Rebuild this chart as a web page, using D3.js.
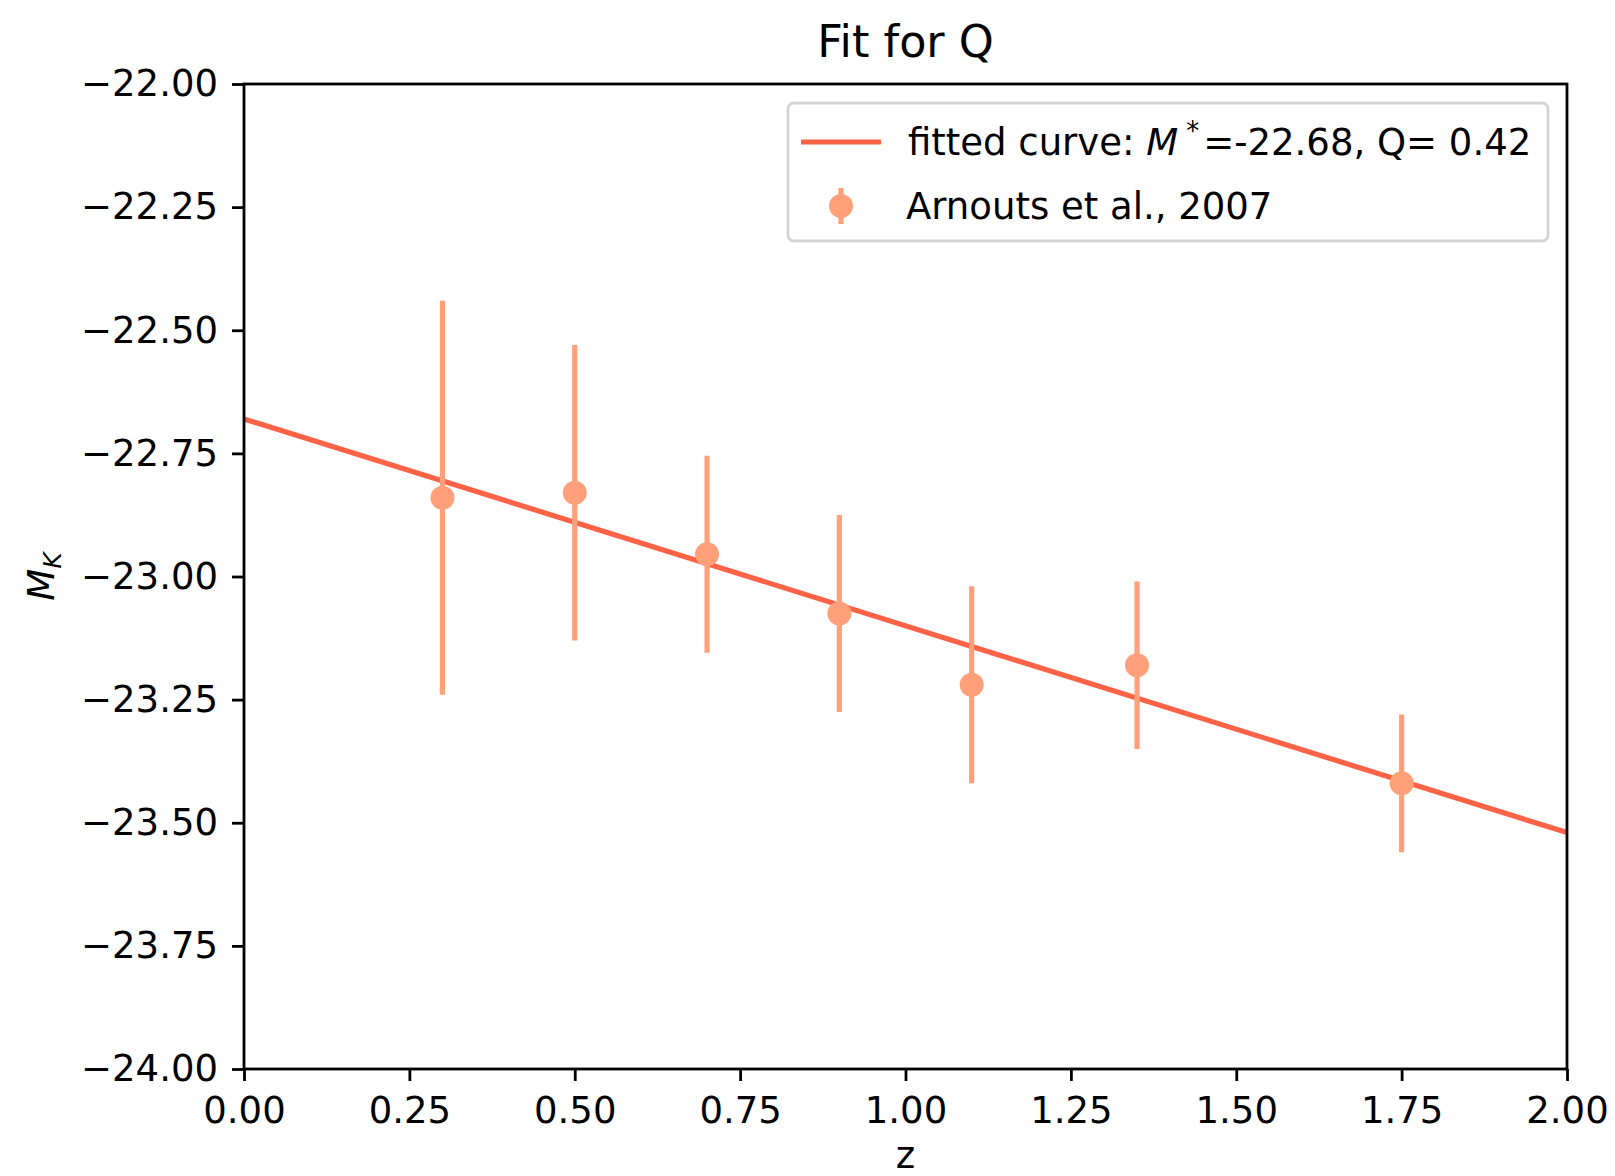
<!DOCTYPE html>
<html>
<head>
    <meta charset='utf-8' />
    <title>Fit for Q</title>
    <script src="https://cdn.jsdelivr.net/npm/d3@7"></script>
	<style type="text/css">
		body {
			margin: 0;
			background: #fff;
		}
		#chart text {
			font-family: "DejaVu Sans";
			fill: #000;
		}
		.axis path {
			display: none;
		}
		.axis line {
			stroke: #000;
			stroke-width: 2.8px;
		}
		.tick text {
			font-size: 37px;
		}
	</style>
</head>
<body>

<div id="chart"></div>

<script type="text/javascript">
	// measurements (Arnouts et al., 2007)
	var zValues = [0.3, 0.5, 0.7, 0.9, 1.1, 1.35, 1.75];
	var mValues = [-22.84, -22.83, -22.955, -23.075, -23.22, -23.18, -23.42];
	var mErrors = [0.40, 0.30, 0.20, 0.20, 0.20, 0.17, 0.14];

	// fitted curve end points
	var fitZ = [0, 2];
	var fitM = [-22.68, -23.52];

	var xTicks = [0, 0.25, 0.5, 0.75, 1, 1.25, 1.5, 1.75, 2];
	var yTicks = [-22, -22.25, -22.5, -22.75, -23, -23.25, -23.5, -23.75, -24];

	var lineColor = "#ff6347",
		pointColor = "#ffa07a";

	var width = 1615,
		height = 1176,
		margin = {top: 84, right: 48, bottom: 107, left: 244},
		chartWidth = width - margin.left - margin.right,
		chartHeight = height - margin.top - margin.bottom;

	var svg = d3.select("#chart").append("svg")
		.attr("width", width)
		.attr("height", height);

	var x = d3.scaleLinear().domain([0, 2]).range([0, chartWidth]);
	var y = d3.scaleLinear().domain([-22, -24]).range([0, chartHeight]);

	var g = svg.append("g")
		.attr("transform", "translate(" + margin.left + "," + margin.top + ")");

	var points = zValues.map(function(z, i) {
		return {z: z, m: mValues[i], err: mErrors[i]};
	});

	// fitted line
	var fit = fitZ.map(function(z, i) { return [z, fitM[i]]; });
	g.append("path")
		.datum(fit)
		.attr("fill", "none")
		.attr("stroke", lineColor)
		.attr("stroke-width", 5.2)
		.attr("d", d3.line()
			.x(function(d) { return x(d[0]); })
			.y(function(d) { return y(d[1]); }));

	// error bars
	g.selectAll(".errbar")
		.data(points)
	  .enter().append("line")
		.attr("class", "errbar")
		.attr("x1", function(d) { return x(d.z); })
		.attr("x2", function(d) { return x(d.z); })
		.attr("y1", function(d) { return y(d.m - d.err); })
		.attr("y2", function(d) { return y(d.m + d.err); })
		.attr("stroke", pointColor)
		.attr("stroke-width", 5.2);

	g.selectAll(".dot")
		.data(points)
	  .enter().append("circle")
		.attr("class", "dot")
		.attr("cx", function(d) { return x(d.z); })
		.attr("cy", function(d) { return y(d.m); })
		.attr("r", 12)
		.attr("fill", pointColor);

	// axes
	g.append("g")
		.attr("class", "x axis")
		.attr("transform", "translate(0," + chartHeight + ")")
		.call(d3.axisBottom(x).tickValues(xTicks).tickFormat(d3.format(".2f"))
			.tickSizeInner(12).tickSizeOuter(0).tickPadding(16));

	g.append("g")
		.attr("class", "y axis")
		.call(d3.axisLeft(y).tickValues(yTicks).tickFormat(d3.format(".2f"))
			.tickSizeInner(12).tickSizeOuter(0).tickPadding(14));

	g.append("rect")
		.attr("width", chartWidth)
		.attr("height", chartHeight)
		.attr("fill", "none")
		.attr("stroke", "#000")
		.attr("stroke-width", 2.8);

	// labels
	svg.append("text")
		.attr("x", margin.left + chartWidth / 2)
		.attr("y", 57)
		.attr("text-anchor", "middle")
		.style("font-size", "44.5px")
		.text("Fit for Q");

	svg.append("text")
		.attr("x", margin.left + chartWidth / 2)
		.attr("y", 1168)
		.attr("text-anchor", "middle")
		.style("font-size", "37px")
		.text("z");

	var ylab = svg.append("text")
		.attr("transform", "translate(54," + (margin.top + chartHeight / 2) + ") rotate(-90)")
		.attr("text-anchor", "middle")
		.style("font-size", "37px");
	ylab.append("tspan").style("font-style", "italic").text("M");
	ylab.append("tspan").style("font-style", "italic").style("font-size", "25px")
		.attr("dy", 7).text("K");

	// legend
	var legend = svg.append("g")
		.attr("transform", "translate(788,103)");

	legend.append("rect")
		.attr("width", 760)
		.attr("height", 138)
		.attr("rx", 6)
		.attr("fill", "#fff")
		.attr("fill-opacity", 0.8)
		.attr("stroke", "#d4d4d4")
		.attr("stroke-width", 2.8);

	legend.append("line")
		.attr("x1", 13).attr("x2", 93)
		.attr("y1", 39).attr("y2", 39)
		.attr("stroke", lineColor)
		.attr("stroke-width", 5.2);

	var t1 = legend.append("text")
		.attr("x", 120)
		.attr("y", 52)
		.style("font-size", "37px");
	t1.append("tspan").text("fitted curve: ");
	t1.append("tspan").style("font-style", "italic").text("M");
	t1.append("tspan").style("font-size", "26px").attr("dy", -15).attr("dx", 8).text("*");
	t1.append("tspan").attr("dy", 15).attr("dx", 4).text("=-22.68, Q= 0.42");

	legend.append("line")
		.attr("x1", 53).attr("x2", 53)
		.attr("y1", 85).attr("y2", 121)
		.attr("stroke", pointColor)
		.attr("stroke-width", 5.2);
	legend.append("circle")
		.attr("cx", 53).attr("cy", 103)
		.attr("r", 12)
		.attr("fill", pointColor);

	legend.append("text")
		.attr("x", 118)
		.attr("y", 116)
		.style("font-size", "37px")
		.text("Arnouts et al., 2007");
</script>

</body>
</html>
